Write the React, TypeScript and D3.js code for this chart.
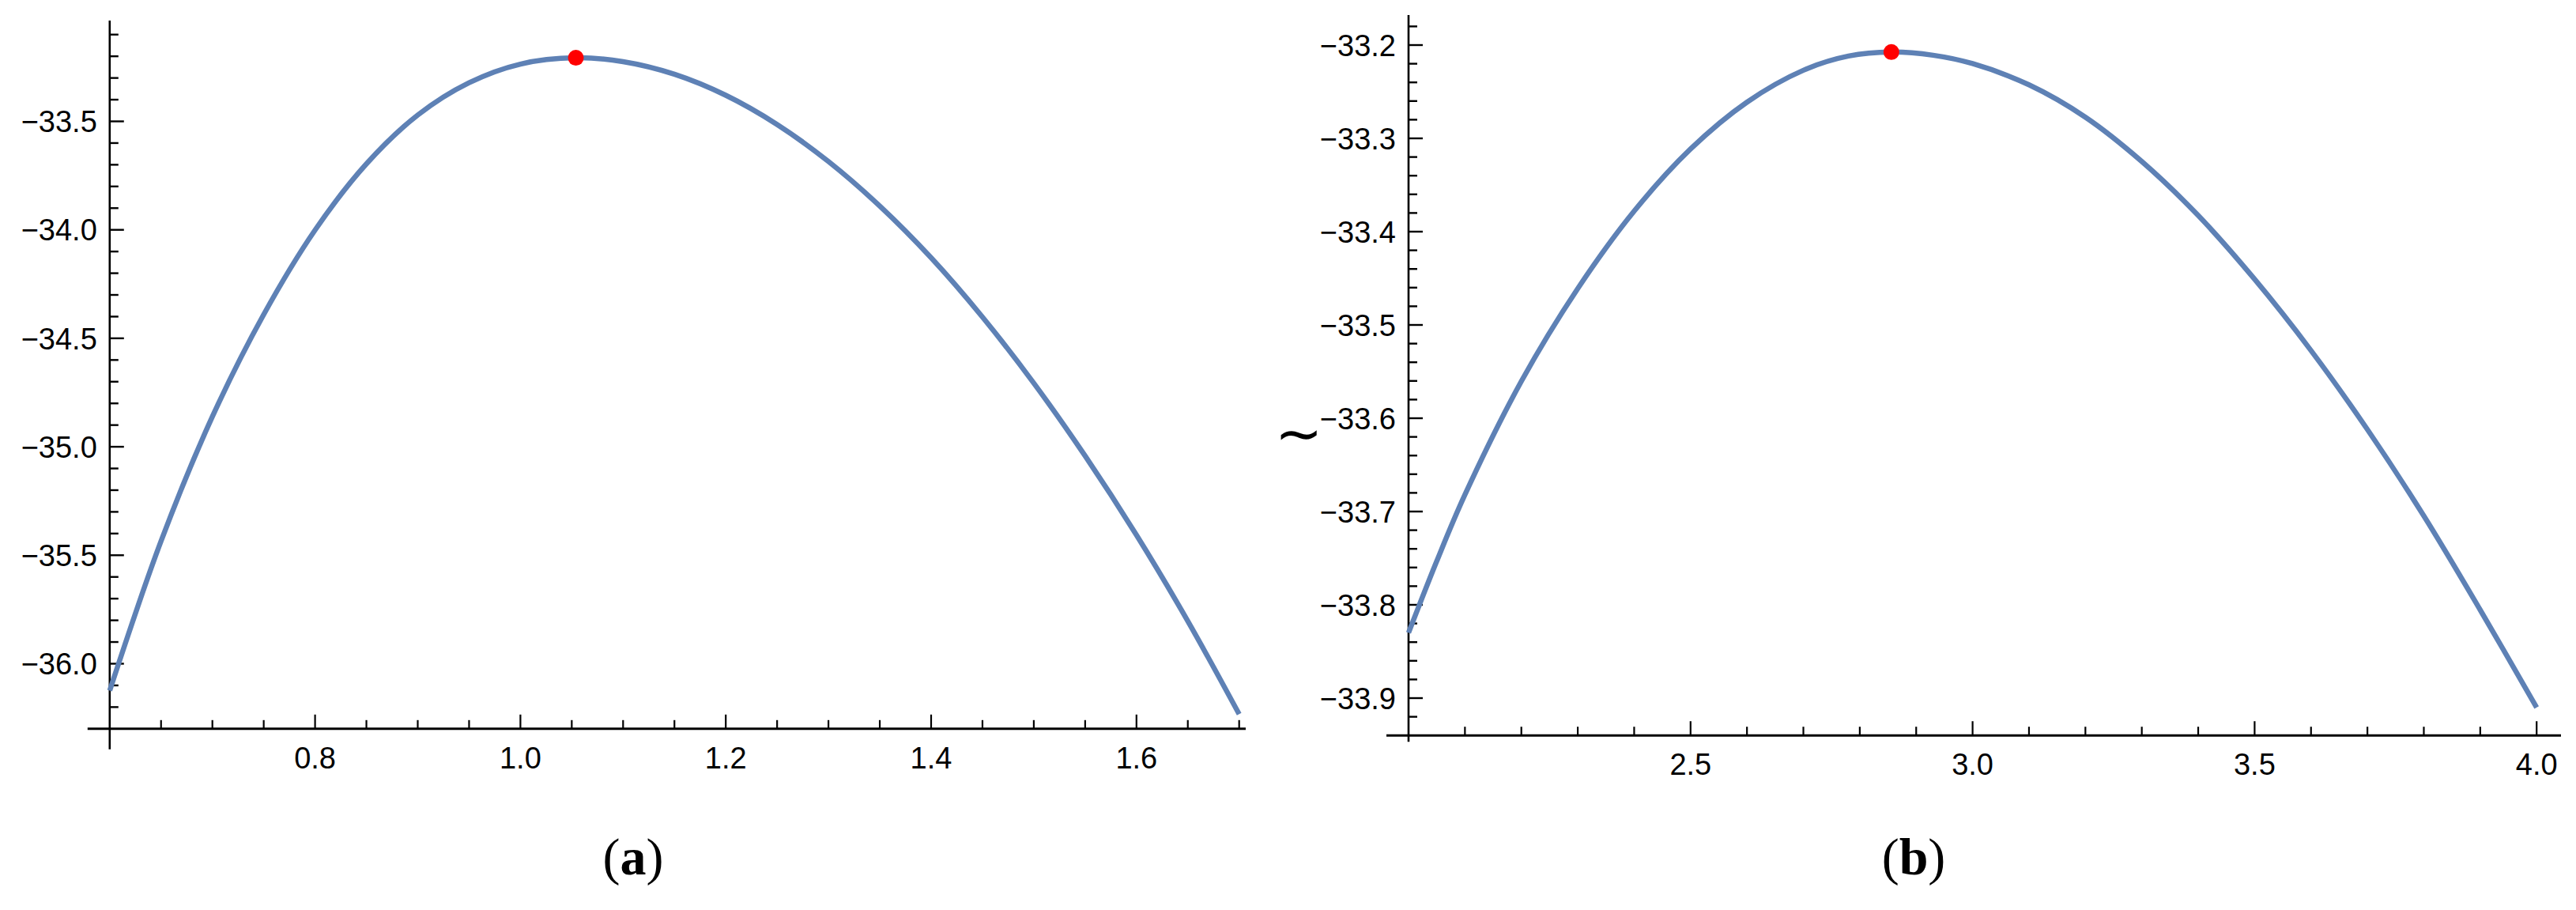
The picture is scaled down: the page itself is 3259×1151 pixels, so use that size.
import React from "react";
import * as d3 from "d3";

// ---------- Data ----------
const A_X = [0.6, 0.65, 0.7, 0.75, 0.8, 0.85, 0.9, 0.95, 1.0, 1.054, 1.1, 1.15, 1.2, 1.25, 1.3, 1.35, 1.4, 1.45, 1.5, 1.55, 1.6, 1.65, 1.7];
const A_Y = [-36.124, -35.435, -34.861, -34.39, -34.001, -33.696, -33.471, -33.322, -33.236, -33.207, -33.2246, -33.2826, -33.3797, -33.5143, -33.6851, -33.8904, -34.1288, -34.402, -34.7068, -35.0423, -35.4071, -35.8036, -36.2325];
const A_PEAK = [1.054, -33.207];
const A_X_TICKS = [0.8, 1.0, 1.2, 1.4, 1.6];
const A_Y_TICKS = [-36.0, -35.5, -35.0, -34.5, -34.0, -33.5];

const B_X = [2.0, 2.05, 2.1, 2.2, 2.3, 2.4, 2.5, 2.6, 2.7, 2.78, 2.856, 2.93, 3.0, 3.1, 3.2, 3.3, 3.4, 3.5, 3.6, 3.7, 3.8, 3.9, 4.0];
const B_Y = [-33.83, -33.7532, -33.6819, -33.5604, -33.461, -33.378, -33.3114, -33.2612, -33.227, -33.2118, -33.2075, -33.2109, -33.2199, -33.2426, -33.2773, -33.3248, -33.3827, -33.451, -33.5274, -33.6121, -33.7047, -33.8055, -33.91];
const B_PEAK = [2.856, -33.2075];
const B_X_TICKS = [2.5, 3.0, 3.5, 4.0];
const B_Y_TICKS = [-33.9, -33.8, -33.7, -33.6, -33.5, -33.4, -33.3, -33.2];

const LINE_COLOR = "#5E81B5";
const DOT_COLOR = "#FF0000";
const FONT = "'Liberation Sans', Arial, Helvetica, sans-serif";

type PanelProps = {
  xs: number[];
  ys: number[];
  peak: number[];
  xDomain: [number, number];
  xRange: [number, number];
  yDomain: [number, number];
  yRange: [number, number];
  xAxisAt: number;
  xMajor: number[];
  xMinorStep: number;
  xMinorEnd: number;
  yMajor: number[];
  yMinorStep: number;
  yMinorStart: number;
  yMinorEnd: number;
  xAxisRight: number;
  yAxisTop: number;
  yAxisBelow: number;
  xLabelFmt: (v: number) => string;
  yLabelFmt: (v: number) => string;
};

function Panel(p: PanelProps) {
  const x = d3.scaleLinear().domain(p.xDomain).range(p.xRange);
  const y = d3.scaleLinear().domain(p.yDomain).range(p.yRange);
  const ax = x(p.xDomain[0]);
  const ay = y(p.xAxisAt);
  const line = d3
    .line<number>()
    .x((_, i) => x(p.xs[i]))
    .y((_, i) => y(p.ys[i]))
    .curve(d3.curveCatmullRom.alpha(0.5));

  const eps = 1e-6;
  const xMinor: number[] = [];
  for (let v = p.xDomain[0] + p.xMinorStep; v <= p.xMinorEnd + eps; v += p.xMinorStep) {
    const r = Math.round(v * 1000) / 1000;
    if (!p.xMajor.some((m) => Math.abs(m - r) < eps)) xMinor.push(r);
  }
  const yMinor: number[] = [];
  for (let v = p.yMinorStart; v <= p.yMinorEnd + eps; v += p.yMinorStep) {
    const r = Math.round(v * 1000) / 1000;
    if (!p.yMajor.some((m) => Math.abs(m - r) < eps)) yMinor.push(r);
  }

  return (
    <g>
      <line x1={ax - 28} x2={p.xAxisRight} y1={ay} y2={ay} stroke="#000" strokeWidth={3} />
      <line x1={ax} x2={ax} y1={p.yAxisTop} y2={ay + p.yAxisBelow} stroke="#000" strokeWidth={2.6} />
      {p.xMajor.map((v) => (
        <g key={"xM" + v}>
          <line x1={x(v)} x2={x(v)} y1={ay} y2={ay - 18} stroke="#000" strokeWidth={2.2} />
          <text x={x(v)} y={ay + 50} textAnchor="middle" fontFamily={FONT} fontSize={38} fill="#000">
            {p.xLabelFmt(v)}
          </text>
        </g>
      ))}
      {xMinor.map((v) => (
        <line key={"xm" + v} x1={x(v)} x2={x(v)} y1={ay} y2={ay - 11} stroke="#000" strokeWidth={2.2} />
      ))}
      {p.yMajor.map((v) => (
        <g key={"yM" + v}>
          <line x1={ax} x2={ax + 18} y1={y(v)} y2={y(v)} stroke="#000" strokeWidth={2.4} />
          <text x={ax - 16} y={y(v)} dy="0.36em" textAnchor="end" fontFamily={FONT} fontSize={38} fill="#000">
            {p.yLabelFmt(v)}
          </text>
        </g>
      ))}
      {yMinor.map((v) => (
        <line key={"ym" + v} x1={ax} x2={ax + 11} y1={y(v)} y2={y(v)} stroke="#000" strokeWidth={2.4} />
      ))}
      <path d={line(p.xs) || ""} fill="none" stroke={LINE_COLOR} strokeWidth={6.5} />
      <circle cx={x(p.peak[0])} cy={y(p.peak[1])} r={10} fill={DOT_COLOR} />
    </g>
  );
}

const fmt1 = (v: number) => (v < 0 ? "\u2212" + Math.abs(v).toFixed(1) : v.toFixed(1));

export default function App() {
  return (
    <svg
      width={3259}
      height={1151}
      viewBox="0 0 3259 1151"
      style={{ position: "absolute", left: 0, top: 0, background: "#fff" }}
    >
      <rect x={0} y={0} width={3259} height={1151} fill="#fff" />
      <Panel
        xs={A_X}
        ys={A_Y}
        peak={A_PEAK}
        xDomain={[0.6, 1.7]}
        xRange={[138.8, 1567.7]}
        yDomain={[-36.3, -33.5]}
        yRange={[921.8, 153.5]}
        xAxisAt={-36.3}
        xMajor={A_X_TICKS}
        xMinorStep={0.05}
        xMinorEnd={1.7}
        yMajor={A_Y_TICKS}
        yMinorStep={0.1}
        yMinorStart={-36.2}
        yMinorEnd={-33.1}
        xAxisRight={1576}
        yAxisTop={26}
        yAxisBelow={26}
        xLabelFmt={fmt1}
        yLabelFmt={fmt1}
      />
      <Panel
        xs={B_X}
        ys={B_Y}
        peak={B_PEAK}
        xDomain={[2.0, 4.0]}
        xRange={[1782, 3209.2]}
        yDomain={[-33.9, -33.2]}
        yRange={[883, 57]}
        xAxisAt={-33.94}
        xMajor={B_X_TICKS}
        xMinorStep={0.1}
        xMinorEnd={4.0}
        yMajor={B_Y_TICKS}
        yMinorStep={0.02}
        yMinorStart={-33.92}
        yMinorEnd={-33.18}
        xAxisRight={3240}
        yAxisTop={19}
        yAxisBelow={8}
        xLabelFmt={fmt1}
        yLabelFmt={fmt1}
      />
      <text x={1643} y={573} textAnchor="middle" fontFamily="'Liberation Serif', 'Times New Roman', serif" fontSize={72} fill="#000">
        ∼
      </text>
      <text x={801} y={1106} textAnchor="middle" fontFamily="'Liberation Serif', 'Times New Roman', serif" fontSize={66} fill="#000">
        (<tspan fontWeight="bold">a</tspan>)
      </text>
      <text x={2421} y={1106} textAnchor="middle" fontFamily="'Liberation Serif', 'Times New Roman', serif" fontSize={66} fill="#000">
        (<tspan fontWeight="bold">b</tspan>)
      </text>
    </svg>
  );
}
